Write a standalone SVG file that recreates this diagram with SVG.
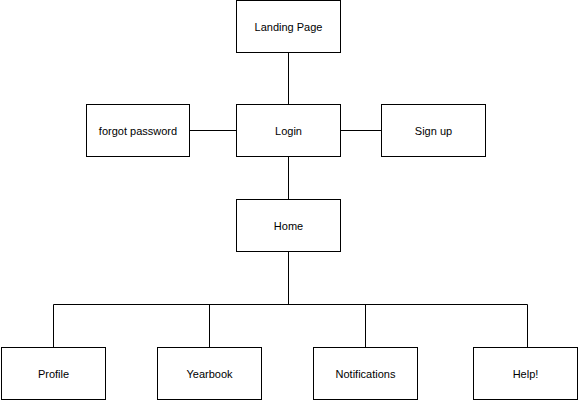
<svg xmlns="http://www.w3.org/2000/svg" width="578" height="400" viewBox="0 0 578 400">
<style>
.box{fill:#fff;stroke:#000;stroke-width:1}
.lbl{font-family:"Liberation Sans",Arial,sans-serif;font-size:11px;fill:#000;text-anchor:middle;dominant-baseline:central}
.c{stroke:#000;stroke-width:1;fill:none}
</style>
<rect width="578" height="400" fill="#fff"/>
<g id="connectors">
<path class="c" d="M288.5 52V104"/>
<path class="c" d="M288.5 156V199"/>
<path class="c" d="M189 130.5H236"/>
<path class="c" d="M340 130.5H382"/>
<path class="c" d="M288.5 252V304"/>
<path class="c" d="M53.5 347V304.5H527.5V347"/>
<path class="c" d="M209.5 304.5V347"/>
<path class="c" d="M365.5 304.5V347"/>
</g>
<g id="landing"><rect class="box" x="236.5" y="0.5" width="104" height="52"/><text class="lbl" x="288.5" y="26.5">Landing Page</text></g>
<g id="login"><rect class="box" x="236.5" y="104.5" width="104" height="52"/><text class="lbl" x="288.5" y="130.5">Login</text></g>
<g id="forgot"><rect class="box" x="86.5" y="104.5" width="103" height="52"/><text class="lbl" x="138" y="130.5">forgot password</text></g>
<g id="signup"><rect class="box" x="381.5" y="104.5" width="104" height="52"/><text class="lbl" x="433.5" y="130.5">Sign up</text></g>
<g id="home"><rect class="box" x="236.5" y="199.5" width="104" height="52"/><text class="lbl" x="288.5" y="225.5">Home</text></g>
<g id="profile"><rect class="box" x="1.5" y="347.5" width="104" height="52"/><text class="lbl" x="53.5" y="373.5">Profile</text></g>
<g id="yearbook"><rect class="box" x="157.5" y="347.5" width="104" height="52"/><text class="lbl" x="209.5" y="373.5">Yearbook</text></g>
<g id="notifications"><rect class="box" x="313.5" y="347.5" width="104" height="52"/><text class="lbl" x="365.5" y="373.5">Notifications</text></g>
<g id="help"><rect class="box" x="473.5" y="347.5" width="104" height="52"/><text class="lbl" x="525.5" y="373.5">Help!</text></g>
</svg>
